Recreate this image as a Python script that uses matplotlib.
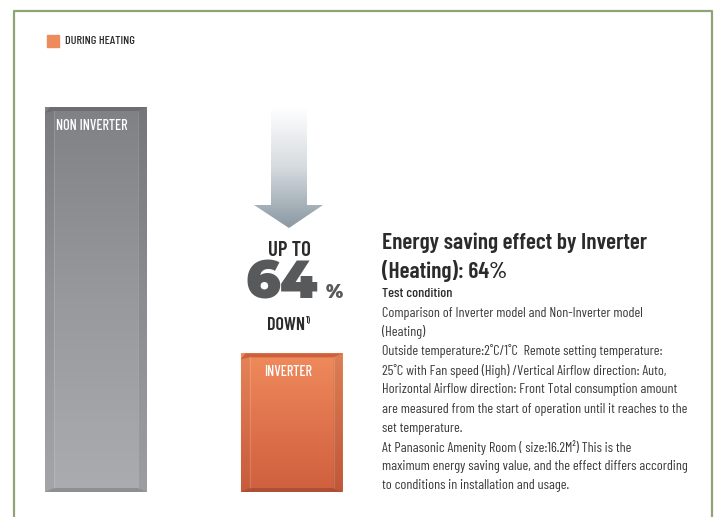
import numpy as np
import matplotlib
matplotlib.use('Agg')
import matplotlib.pyplot as plt
from matplotlib.patches import Polygon, Rectangle
from matplotlib.colors import LinearSegmentedColormap

W, H = 717, 517

categories = ['NON INVERTER', 'INVERTER']
consumption = [100, 36]  # relative energy use, non-inverter = 100
saving_pct = 64
legend_label = 'DURING HEATING'
title_lines = ['Energy saving effect by Inverter', '(Heating): 64%']
body_lines = [
    'Comparison of Inverter model and Non-Inverter model',
    '(Heating)',
    'Outside temperature:2\u02daC/1\u02daC  Remote setting temperature:',
    '25\u02daC with Fan speed (High) /Vertical Airflow direction: Auto,',
    'Horizontal Airflow direction: Front Total consumption amount',
    'are measured from the start of operation until it reaches to the',
    'set temperature.',
    'At Panasonic Amenity Room ( size:16.2M\u00b2) This is the',
    'maximum energy saving value, and the effect differs according',
    'to conditions in installation and usage.',
]

FONT = ['Barlow Condensed', 'DejaVu Sans']
BIG = ['Montserrat Alternates', 'Lato', 'DejaVu Sans']
DARK = '#2b2b2b'

fig = plt.figure(figsize=(W / 100, H / 100), dpi=100)


def ptext(x, y, s, **kw):
    """Place text using pixel coords measured from the top-left."""
    kw.setdefault('family', FONT)
    return fig.text(x / W, 1 - y / H, s, **kw)


# full-figure pixel axes for the frame and the arrow
deco = fig.add_axes([0, 0, 1, 1])
deco.set_xlim(0, W)
deco.set_ylim(H, 0)
deco.axis('off')

green = '#8ea477'
deco.plot([13.5, 13.5, 711.5, 711.5], [H, 10.5, 10.5, H], color=green, lw=1.6)

# legend
deco.add_patch(Rectangle((47, 35), 12, 12, color='#ec8b5c'))
ptext(65, 41.5, legend_label, fontsize=8.8, weight=500, color=DARK, va='center')

# down arrow with a white-to-grey gradient
arrow = Polygon([(271, 107), (307, 107), (307, 205), (323, 205), (289, 228),
                 (254, 205), (271, 205)], closed=True, facecolor='none', edgecolor='none')
deco.add_patch(arrow)
arrow_cmap = LinearSegmentedColormap.from_list('arrow', ['#ffffff', '#d5dbdf', '#8a98a2'])
grad = np.linspace(0, 1, 256).reshape(-1, 1)
im = deco.imshow(grad, cmap=arrow_cmap, extent=[254, 323, 228, 107], aspect='auto',
                 interpolation='bicubic')
im.set_clip_path(arrow)

# bars: x in pixels, y in % of the non-inverter consumption
bottom_px, top_px = 492, 107
ax = fig.add_axes([0, 1 - bottom_px / H, 1, (bottom_px - top_px) / H])
ax.set_xlim(0, W)
ax.set_ylim(0, 100)
ax.axis('off')
k = 100 / (bottom_px - top_px)  # data units per pixel

centers = [96, 291.5]
bar_w = 102
bars = ax.bar(centers, consumption, width=bar_w, color='none', zorder=2)

grads = [
    LinearSegmentedColormap.from_list('grey', ['#abacb0', '#98999d', '#808185']),
    LinearSegmentedColormap.from_list('orange', ['#cf5f3e', '#e0744d', '#ef8b5c']),
]
edge_dark = ['#6a6b6f', '#c85a38']
label_dx = [11, 24]

for bar, cmap, dark, label, dx in zip(bars, grads, edge_dark, categories, label_dx):
    x0, w, h = bar.get_x(), bar.get_width(), bar.get_height()
    x1 = x0 + w
    img = ax.imshow(np.linspace(0, 1, 256).reshape(-1, 1), cmap=cmap, origin='lower',
                    extent=[x0, x1, 0, h], aspect='auto', interpolation='bicubic', zorder=1)
    img.set_clip_path(bar)
    # bevels for a slight 3D look
    d = 9
    ax.add_patch(Polygon([(x0, 0), (x0 + d, 4 * k), (x0 + d, h - 4 * k), (x0, h - 6 * k)],
                         closed=True, color='black', alpha=0.04, lw=0, zorder=3))
    ax.add_patch(Polygon([(x1, 0), (x1 - d, 4 * k), (x1 - d, h - 4 * k), (x1, h)],
                         closed=True, color='black', alpha=0.08, lw=0, zorder=3))
    ax.add_patch(Polygon([(x0, h - 6 * k), (x0 + d, h - 4 * k), (x1 - d, h - 4 * k), (x1, h),
                          (x0 + 5, h)],
                         closed=True, color=dark, alpha=0.85, lw=0, zorder=3))
    ax.add_patch(Polygon([(x0, 0), (x0 + d, 4 * k), (x1 - d, 4 * k), (x1, 0)],
                         closed=True, color='black', alpha=0.16, lw=0, zorder=3))
    ax.plot([x0 + d, x0 + d], [4 * k, h - 4 * k], color='white', alpha=0.15, lw=0.8, zorder=4)
    ax.plot([x1 - d, x1 - d], [4 * k, h - 4 * k], color='white', alpha=0.15, lw=0.8, zorder=4)
    ax.text(x0 + dx, h - 19 * k, label, family=FONT, fontsize=10.3, weight=500,
            color='white', va='center', zorder=5)

# saving headline between the bars
ptext(289.5, 250, 'UP TO', fontsize=15, weight=600, color=DARK, ha='center', va='center')
ptext(282, 283, f'{saving_pct}', family=BIG, fontsize=38, weight=900,
      color='#58595b', ha='center', va='center')
ptext(334, 292, '%', family=BIG, fontsize=13.5, weight=900,
      color='#58595b', ha='center', va='center')
ptext(305, 326, 'DOWN', fontsize=13, weight=600, color=DARK, ha='right', va='center')
ptext(305.5, 321, '1)', fontsize=6.5, weight=600, color=DARK, ha='left', va='center')

# description text
ptext(382, 243, title_lines[0], fontsize=16.8, weight=600, color=DARK, va='center')
ptext(382, 271, title_lines[1], fontsize=16.8, weight=600, color=DARK, va='center')
ptext(382, 294, 'Test condition', fontsize=10.2, weight=500, color=DARK, va='center')
for i, line in enumerate(body_lines):
    ptext(382, 313 + i * 19.2, line, fontsize=10.2, color='#3a3a3a', va='center')

fig.savefig('out.png', dpi=100)
